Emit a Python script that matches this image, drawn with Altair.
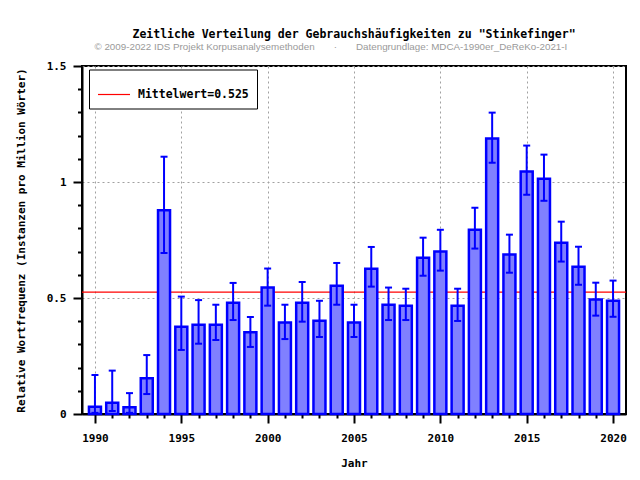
import altair as alt
import pandas as pd

years = list(range(1990, 2021))
values = [0.031, 0.049, 0.029, 0.154, 0.878, 0.376, 0.385, 0.385, 0.480, 0.352,
          0.545, 0.394, 0.480, 0.402, 0.553, 0.394, 0.626, 0.471, 0.467, 0.674,
          0.700, 0.467, 0.794, 1.187, 0.687, 1.045, 1.014, 0.738, 0.635, 0.493,
          0.488]
err_low = [0.005, 0.013, 0.005, 0.086, 0.694, 0.276, 0.303, 0.319, 0.405, 0.289,
           0.467, 0.323, 0.398, 0.332, 0.471, 0.332, 0.549, 0.405, 0.405, 0.596,
           0.618, 0.401, 0.713, 1.083, 0.609, 0.945, 0.919, 0.657, 0.557, 0.424,
           0.419]
err_high = [0.168, 0.187, 0.090, 0.254, 1.109, 0.506, 0.491, 0.471, 0.565, 0.418,
            0.627, 0.471, 0.569, 0.488, 0.651, 0.471, 0.720, 0.545, 0.540, 0.760,
            0.794, 0.540, 0.889, 1.299, 0.773, 1.157, 1.118, 0.829, 0.721, 0.566,
            0.575]
mean_value = 0.525
mean_label = "Mittelwert=0.525"
y_ticks = [round(i / 10, 1) for i in range(16)]

df = pd.DataFrame({"Jahr": years, "wert": values, "lo": err_low, "hi": err_high})
mean_df = pd.DataFrame({"label": [mean_label], "wert": [mean_value]})

MONO = "DejaVu Sans Mono"
BLUE = "#0000ff"

x_scale = alt.Scale(domain=[1989.25, 2020.75], nice=False, zero=False, padding=0)
y_scale = alt.Scale(domain=[0, 1.5], nice=False)

x_axis = alt.Axis(
    values=years,
    tickCount=200,
    format="d",
    labelOverlap=False,
    labelExpr="datum.value % 5 === 0 ? datum.label : ''",
    tickSize={"condition": {"test": "datum.value % 5 === 0", "value": 9}, "value": 4},
    gridOpacity={"condition": {"test": "datum.value % 5 === 0", "value": 1}, "value": 0},
    labelPadding=9,
    titlePadding=14,
)
y_axis = alt.Axis(
    values=y_ticks,
    tickCount=200,
    labelOverlap=False,
    labelExpr="round(datum.value*10) % 5 === 0 ? toString(round(datum.value*10)/10) : ''",
    tickSize={"condition": {"test": "round(datum.value*10) % 5 === 0", "value": 9}, "value": 4.5},
    gridOpacity={"condition": {"test": "round(datum.value*10) % 5 === 0", "value": 1}, "value": 0},
    labelPadding=7,
    titlePadding=20,
)

mean_rule = alt.Chart(mean_df).mark_rule(strokeWidth=1.2).encode(
    y=alt.Y("wert:Q", scale=y_scale, axis=y_axis,
            title="Relative Wortfrequenz (Instanzen pro Million Wörter)"),
    color=alt.Color(
        "label:N",
        scale=alt.Scale(range=["#ff0000"]),
        legend=alt.Legend(
            title=None, orient="none", legendX=7, legendY=3.5,
            symbolType="stroke", symbolSize=1024, symbolStrokeWidth=1.2,
            labelFont=MONO, labelFontWeight="bold", labelFontSize=11.5,
            labelColor="black", labelOffset=7, padding=8,
            fillColor="white", strokeColor="black",
        ),
    ),
)

bars = alt.Chart(df).mark_bar(size=12, fill="#8080ff", stroke=BLUE, strokeWidth=2.5).encode(
    x=alt.X("Jahr:Q", scale=x_scale, axis=x_axis, title="Jahr"),
    y=alt.Y("wert:Q", scale=y_scale),
)

err = alt.Chart(df).mark_rule(color=BLUE, strokeWidth=2).encode(
    x=alt.X("Jahr:Q", scale=x_scale),
    y=alt.Y("lo:Q", scale=y_scale),
    y2="hi:Q",
)
cap_hi = alt.Chart(df).mark_tick(orient="horizontal", size=7, thickness=2,
                                 color=BLUE, opacity=1).encode(
    x=alt.X("Jahr:Q", scale=x_scale),
    y=alt.Y("hi:Q", scale=y_scale),
)
cap_lo = alt.Chart(df).mark_tick(orient="horizontal", size=7, thickness=2,
                                 color=BLUE, opacity=1).encode(
    x=alt.X("Jahr:Q", scale=x_scale),
    y=alt.Y("lo:Q", scale=y_scale),
)

sp = "\u00a0" * 7
subtitle = ("© 2009-2022 IDS Projekt Korpusanalysemethoden" + sp + "·" + sp +
            "Datengrundlage: MDCA-1990er_DeReKo-2021-I" + "\u00a0" * 17 + "\u2060")

chart = alt.layer(mean_rule, bars, err, cap_hi, cap_lo).properties(
    width=544,
    height=348,
    autosize=alt.AutoSizeParams(type="none"),
    padding={"left": 74, "top": 58, "right": 6, "bottom": 66},
    title=alt.TitleParams(
        text='Zeitliche Verteilung der Gebrauchshäufigkeiten zu "Stinkefinger"',
        subtitle=subtitle,
        font=MONO, fontSize=11.5, fontWeight="bold", color="black",
        subtitleFont="Liberation Sans", subtitleFontSize=9.8,
        subtitleColor="#9a9a9a", subtitlePadding=2,
        anchor="middle", offset=8,
    ),
).configure_view(
    stroke="black", strokeWidth=2,
).configure_axis(
    domainColor="black", domainWidth=2,
    tickColor="black", tickWidth=2,
    labelFont=MONO, labelFontWeight="bold", labelFontSize=11, labelColor="black",
    titleFont=MONO, titleFontWeight="bold", titleFontSize=11, titleColor="black",
    grid=True, gridColor="#a0a0a0", gridDash=[2, 3], gridWidth=1,
)

chart.save("out.html", embed_options={"renderer": "svg", "actions": False})
